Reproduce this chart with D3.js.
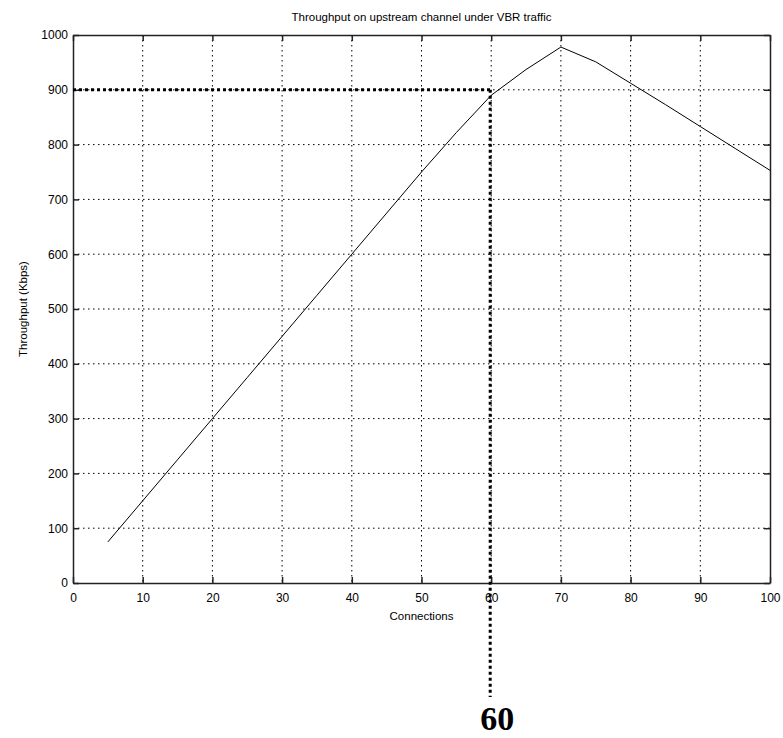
<!DOCTYPE html>
<html>
<head>
<meta charset="utf-8">
<script src="https://cdn.jsdelivr.net/npm/d3@7"></script>
<style>
  html, body { margin: 0; padding: 0; background: #fff; }
  svg { display: block; }
  text { font-family: "Liberation Sans", Arial, sans-serif; fill: #000; }
</style>
</head>
<body>
<svg id="chart" width="783" height="738"></svg>
<script>
// Throughput (Kbps) versus number of connections
const connections = [5, 10, 15, 20, 25, 30, 35, 40, 45, 50, 55, 60, 65, 70, 75, 80, 85, 90, 95, 100];
const throughput  = [75, 150, 225, 300, 375, 450, 525, 600, 675, 750, 822, 890, 937, 978, 951, 912, 873, 833, 793, 753];

const xTicks = [0, 10, 20, 30, 40, 50, 60, 70, 80, 90, 100];
const yTicks = [0, 100, 200, 300, 400, 500, 600, 700, 800, 900, 1000];

// Marked operating point
const markX = 60;
const markY = 900;
const markLabel = "60";

const titleText = "Throughput on upstream channel under VBR traffic";
const xLabel = "Connections";
const yLabel = "Throughput (Kbps)";

const svg = d3.select("#chart");
const margin = { left: 73, right: 13, top: 35, bottom: 155 };
const W = 783, H = 738;
const x = d3.scaleLinear().domain([0, 100]).range([margin.left, W - margin.right]);
const y = d3.scaleLinear().domain([0, 1000]).range([H - margin.bottom, margin.top]);

const x0 = x.range()[0], x1 = x.range()[1];
const y0 = y.range()[0], y1 = y.range()[1];

// grid
const grid = svg.append("g").attr("stroke", "#000").attr("stroke-width", 1)
  .attr("stroke-dasharray", "1.5,3.5").attr("fill", "none");
xTicks.slice(1, -1).forEach(t => {
  grid.append("line").attr("x1", x(t)).attr("x2", x(t)).attr("y1", y1).attr("y2", y0);
});
yTicks.slice(1, -1).forEach(t => {
  grid.append("line").attr("x1", x0).attr("x2", x1).attr("y1", y(t)).attr("y2", y(t));
});

// axes with inward ticks on all four sides
const tickLen = 6;
const fmt = d3.format("d");
const axB = svg.append("g").attr("transform", `translate(0,${y0})`)
  .call(d3.axisBottom(x).tickValues(xTicks).tickFormat(fmt).tickSizeInner(-tickLen).tickSizeOuter(0).tickPadding(10));
const axT = svg.append("g").attr("transform", `translate(0,${y1})`)
  .call(d3.axisTop(x).tickValues(xTicks).tickSizeInner(-tickLen).tickSizeOuter(0).tickFormat(""));
const axL = svg.append("g").attr("transform", `translate(${x0},0)`)
  .call(d3.axisLeft(y).tickValues(yTicks).tickFormat(fmt).tickSizeInner(-tickLen).tickSizeOuter(0).tickPadding(5));
const axR = svg.append("g").attr("transform", `translate(${x1},0)`)
  .call(d3.axisRight(y).tickValues(yTicks).tickSizeInner(-tickLen).tickSizeOuter(0).tickFormat(""));

[axB, axT, axL, axR].forEach(a => {
  a.select(".domain").attr("stroke", "#222").attr("stroke-width", 1.5);
  a.selectAll(".tick line").attr("stroke", "#222").attr("stroke-width", 1.5);
  a.selectAll(".tick text").attr("font-size", 12).attr("font-family", "Liberation Sans, Arial, sans-serif").attr("fill", "#000");
});

// data line
const line = d3.line().x((d, i) => x(connections[i])).y(d => y(d));
svg.append("path").datum(throughput)
  .attr("d", line).attr("fill", "none").attr("stroke", "#000").attr("stroke-width", 1);

// highlight of the operating point
const hl = svg.append("g").attr("stroke", "#000").attr("stroke-width", 3)
  .attr("stroke-dasharray", "3,3").attr("fill", "none");
hl.append("line").attr("x1", x0).attr("x2", x(markX)).attr("y1", y(markY)).attr("y2", y(markY));
hl.append("line").attr("x1", x(markX) - 1).attr("x2", x(markX) - 1).attr("y1", y(markY)).attr("y2", 697);

svg.append("text").attr("x", x(markX) + 6).attr("y", 730)
  .attr("text-anchor", "middle")
  .attr("font-weight", "bold").attr("font-size", 34)
  .style("font-family", "'Liberation Serif', 'Times New Roman', serif")
  .text(markLabel);

// titles
svg.append("text").attr("x", (x0 + x1) / 2).attr("y", 21)
  .attr("text-anchor", "middle").attr("font-size", 11.5).text(titleText);
svg.append("text").attr("x", (x0 + x1) / 2).attr("y", 620)
  .attr("text-anchor", "middle").attr("font-size", 11.5).text(xLabel);
svg.append("text").attr("transform", `translate(27,${(y0 + y1) / 2}) rotate(-90)`)
  .attr("text-anchor", "middle").attr("font-size", 11.5).text(yLabel);
</script>
</body>
</html>
